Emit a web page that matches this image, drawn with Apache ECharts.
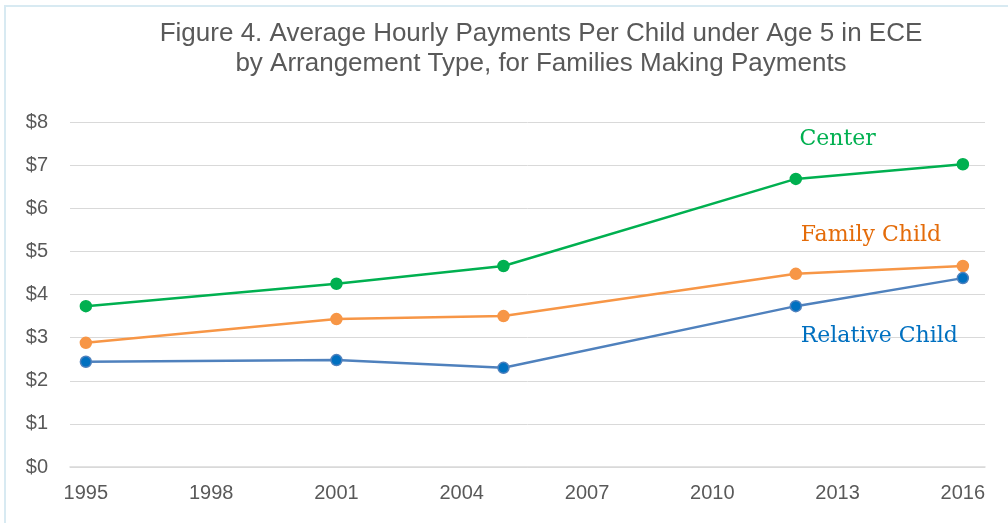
<!DOCTYPE html>
<html>
<head>
<meta charset="utf-8">
<script src="https://cdn.jsdelivr.net/npm/echarts@6/dist/echarts.min.js"></script>
<style>
  html, body { margin: 0; padding: 0; background: #fff; }
  #chart { width: 1008px; height: 523px; }
</style>
</head>
<body>
<div id="chart"></div>
<script>
// 数据
const years = [1995, 2001, 2005, 2012, 2016]
const tickYears = [1995, 1998, 2001, 2004, 2007, 2010, 2013, 2016]
const center = [3.73, 4.25, 4.66, 6.68, 7.02]
const familyChild = [2.88, 3.43, 3.50, 4.48, 4.66]
const relativeChild = [2.44, 2.48, 2.30, 3.73, 4.38]

const pairs = (vals) => years.map((y, i) => [y, vals[i]])

const chart = echarts.init(document.getElementById('chart'))

// 系列标签
const seriesLabel = (name, coord, color) => ({
  symbol: 'circle',
  symbolSize: 0,
  silent: true,
  data: [{ coord: coord }],
  label: {
    show: true,
    position: 'inside',
    formatter: name,
    color: color,
    fontFamily: 'DejaVu Serif',
    fontSize: 22
  }
})

const line = (name, vals, color, markerColor, labelCoord, labelColor) => ({
  name: name,
  type: 'line',
  data: pairs(vals),
  symbol: 'circle',
  symbolSize: 11,
  lineStyle: { color: color, width: 2.5 },
  itemStyle: { color: markerColor, borderColor: color, borderWidth: 1.5 },
  markPoint: seriesLabel(name, labelCoord, labelColor),
  z: 3
})

const option = {
  animation: false,
  title: {
    text: 'Figure 4. Average Hourly Payments Per Child under Age 5 in ECE\nby Arrangement Type, for Families Making Payments',
    left: 536,
    top: 14,
    textAlign: 'center',
    textStyle: {
      fontFamily: 'Liberation Sans',
      fontWeight: 'normal',
      fontSize: 26,
      lineHeight: 30,
      color: '#595959'
    }
  },
  graphic: [{
    type: 'rect',
    shape: { x: 5, y: 6, width: 1020, height: 540 },
    style: { fill: 'none', stroke: '#d8eaf2', lineWidth: 2 },
    silent: true
  }],
  grid: { left: 70, right: 23, top: 122, bottom: 56 },
  xAxis: {
    type: 'value',
    min: 1994.62,
    max: 2016.53,
    axisLine: { show: true, lineStyle: { color: '#d9d9d9', width: 1.5 } },
    axisTick: { show: false },
    splitLine: { show: false },
    axisLabel: {
      customValues: tickYears,
      formatter: (v) => String(v),
      color: '#595959',
      fontFamily: 'Liberation Sans',
      fontSize: 20,
      margin: 16
    }
  },
  yAxis: {
    type: 'value',
    min: 0,
    max: 8,
    interval: 1,
    axisLine: { show: false },
    axisTick: { show: false },
    splitLine: { lineStyle: { color: '#d9d9d9', width: 1 } },
    axisLabel: {
      formatter: (v) => '$' + v,
      color: '#595959',
      fontFamily: 'Liberation Sans',
      fontSize: 20,
      margin: 22
    }
  },
  series: [
    line('Center', center, '#00b050', '#00b050', [2013.0, 7.61], '#00b050'),
    line('Family Child', familyChild, '#f79646', '#f79646', [2013.8, 5.38], '#e46c0a'),
    line('Relative Child', relativeChild, '#4f81bd', '#0070c0', [2014.0, 3.04], '#0070c0')
  ]
}

chart.setOption(option)
</script>
</body>
</html>
